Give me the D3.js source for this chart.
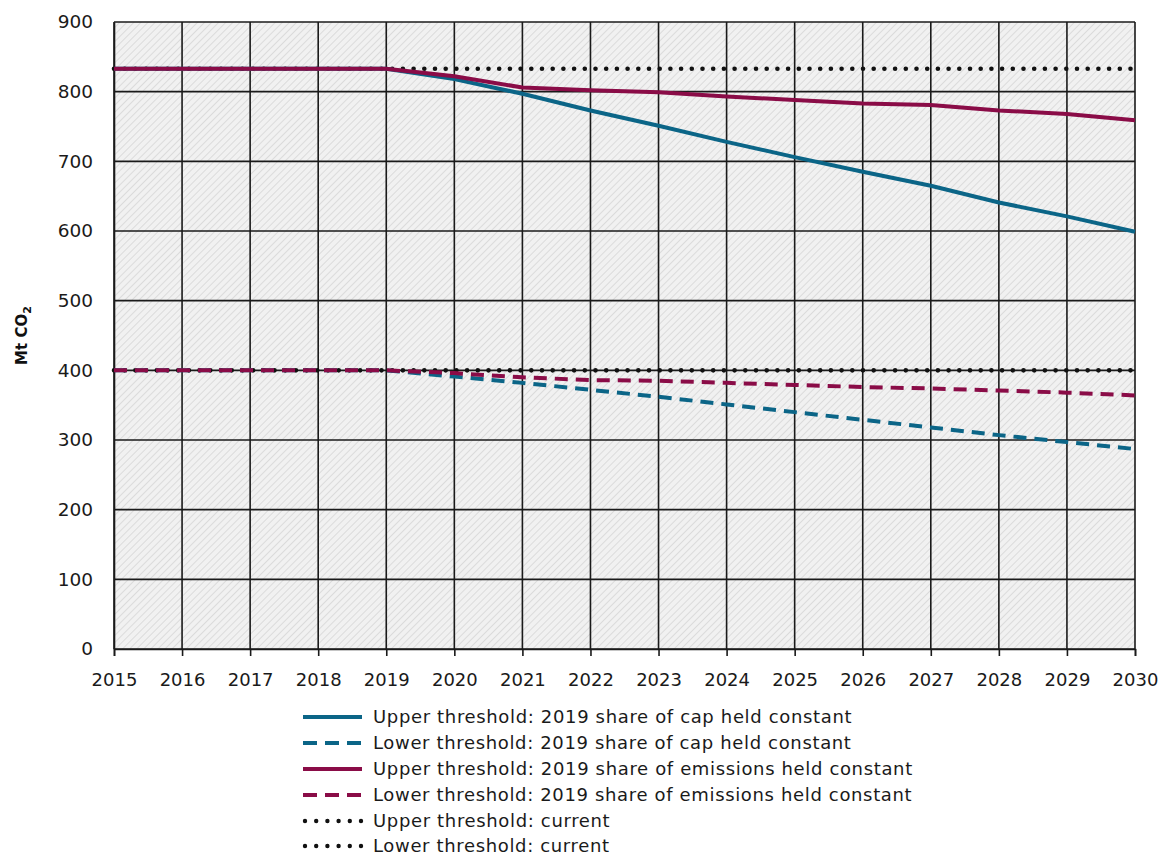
<!DOCTYPE html>
<html>
<head>
<meta charset="utf-8">
<script src="https://cdn.jsdelivr.net/npm/d3@7"></script>
<style>
  html, body { margin: 0; padding: 0; background: #fff; }
  svg { display: block; font-family: "DejaVu Sans", Verdana, sans-serif; }
</style>
</head>
<body>
<svg id="chart" width="1165" height="856"></svg>
<script>
// Years on the x axis
const years = d3.range(2015, 2031);

// Thresholds, Mt CO2
const upperCapConst = [833, 833, 833, 833, 833, 818, 797, 773, 751, 728, 706, 685, 665, 641, 621, 599];
const lowerCapConst = [400, 400, 400, 400, 400, 391, 382, 372, 362, 351, 340, 329, 318, 307, 297, 287];
const upperEmisConst = [833, 833, 833, 833, 833, 822, 806, 802, 799, 793, 788, 783, 781, 773, 768, 759];
const lowerEmisConst = [400, 400, 400, 400, 400, 396, 390, 386, 385, 382, 379, 376, 374, 371, 368, 364];
const upperCurrent = [833, 833, 833, 833, 833, 833, 833, 833, 833, 833, 833, 833, 833, 833, 833, 833];
const lowerCurrent = [400, 400, 400, 400, 400, 400, 400, 400, 400, 400, 400, 400, 400, 400, 400, 400];

const yTicks = [0, 100, 200, 300, 400, 500, 600, 700, 800, 900];
const yTitle = "Mt CO";

const seriesNames = [
  "Upper threshold: 2019 share of cap held constant",
  "Lower threshold: 2019 share of cap held constant",
  "Upper threshold: 2019 share of emissions held constant",
  "Lower threshold: 2019 share of emissions held constant",
  "Upper threshold: current",
  "Lower threshold: current"
];

const BLUE = "#0b6587";
const RED = "#8a0c47";

const series = [
  { name: seriesNames[0], values: upperCapConst, color: BLUE, style: "solid" },
  { name: seriesNames[1], values: lowerCapConst, color: BLUE, style: "dash" },
  { name: seriesNames[2], values: upperEmisConst, color: RED, style: "solid" },
  { name: seriesNames[3], values: lowerEmisConst, color: RED, style: "dash" },
  { name: seriesNames[4], values: upperCurrent, color: "#111", style: "dot" },
  { name: seriesNames[5], values: lowerCurrent, color: "#111", style: "dot" }
];
// Drawing order: dotted references first, then dashed, then solid on top
const drawOrder = [4, 5, 1, 3, 0, 2];

const svg = d3.select("#chart");
const margin = { left: 114, right: 30, top: 22, bottom: 207 };
const W = 1165, H = 856;
const x = d3.scaleLinear().domain([2015, 2030]).range([margin.left, W - margin.right]);
const y = d3.scaleLinear().domain([0, 900]).range([H - margin.bottom, margin.top]);

// Hatched plot background
const defs = svg.append("defs");
const pat = defs.append("pattern")
  .attr("id", "hatch")
  .attr("patternUnits", "userSpaceOnUse")
  .attr("width", 5).attr("height", 5)
  .attr("patternTransform", "rotate(45)");
pat.append("rect").attr("width", 5).attr("height", 5).attr("fill", "#f1f1f1");
pat.append("line").attr("x1", 0).attr("y1", 0).attr("x2", 0).attr("y2", 5)
  .attr("stroke", "#d0d0d0").attr("stroke-width", 1.3);

svg.append("rect")
  .attr("x", x(2015)).attr("y", y(900))
  .attr("width", x(2030) - x(2015)).attr("height", y(0) - y(900))
  .attr("fill", "url(#hatch)");

// Gridlines
const grid = svg.append("g").attr("stroke", "#1a1a1a").attr("stroke-width", 1.6);
grid.selectAll("line.h").data(yTicks).join("line")
  .attr("x1", x(2015)).attr("x2", x(2030))
  .attr("y1", d => y(d)).attr("y2", d => y(d));
grid.selectAll("line.v").data(years).join("line")
  .attr("y1", y(900)).attr("y2", y(0))
  .attr("x1", d => x(d)).attr("x2", d => x(d));

// Axes
const xAxis = d3.axisBottom(x).tickValues(years).tickFormat(d3.format("d")).tickSize(7).tickPadding(17);
const gx = svg.append("g").attr("transform", `translate(0,${y(0)})`).call(xAxis);
gx.select(".domain").attr("stroke", "#1a1a1a").attr("stroke-width", 1.6);
gx.selectAll(".tick line").attr("stroke", "#1a1a1a").attr("stroke-width", 1.6);
gx.selectAll("text").attr("font-size", 18).attr("fill", "#1a1a1a")
  .attr("font-family", "'DejaVu Sans', Verdana, sans-serif");

const yAxis = d3.axisLeft(y).tickValues(yTicks).tickSize(0).tickPadding(21);
const gy = svg.append("g").attr("transform", `translate(${x(2015)},0)`).call(yAxis);
gy.select(".domain").attr("stroke", "#1a1a1a").attr("stroke-width", 1.6);
gy.selectAll("text").attr("font-size", 18.5).attr("fill", "#1a1a1a")
  .attr("font-family", "'DejaVu Sans', Verdana, sans-serif");

// Y axis title
const yt = svg.append("text")
  .attr("transform", `translate(27,${(y(0) + y(900)) / 2}) rotate(-90)`)
  .attr("text-anchor", "middle")
  .attr("font-size", 15).attr("font-weight", "bold").attr("fill", "#111");
yt.append("tspan").text(yTitle);
yt.append("tspan").attr("font-size", 11).attr("dy", 4).text("2");

// Lines
const line = d3.line().x((d, i) => x(years[i])).y(d => y(d));
function styleStroke(sel, s) {
  sel.attr("fill", "none").attr("stroke", s.color).attr("stroke-width", 4);
  if (s.style === "dash") sel.attr("stroke-dasharray", "13,8");
  else if (s.style === "dot") sel.attr("stroke-width", 4.6).attr("stroke-dasharray", "0,10.7").attr("stroke-linecap", "round");
}
drawOrder.forEach(k => {
  const s = series[k];
  svg.append("path").datum(s.values).attr("d", line).call(styleStroke, s);
});

// Legend
const lg = svg.append("g");
const rowY = [717, 743, 769, 795, 821, 846];
series.forEach((s, i) => {
  const g = lg.append("g").attr("transform", `translate(0,${rowY[i]})`);
  if (s.style === "dot") {
    g.append("line").attr("x1", 305).attr("x2", 361).attr("y1", 0).attr("y2", 0)
      .attr("stroke", s.color).attr("stroke-width", 4.4)
      .attr("stroke-dasharray", "0,11.2").attr("stroke-linecap", "round");
  } else {
    g.append("line").attr("x1", 303).attr("x2", 362).attr("y1", 0).attr("y2", 0)
      .attr("stroke", s.color).attr("stroke-width", 4)
      .attr("stroke-dasharray", s.style === "dash" ? "14,8" : null);
  }
  g.append("text").attr("x", 373).attr("y", 0).attr("dy", "0.35em")
    .attr("font-size", 18).attr("letter-spacing", 0.65)
    .attr("fill", "#1a1a1a").text(s.name);
});
</script>
</body>
</html>
